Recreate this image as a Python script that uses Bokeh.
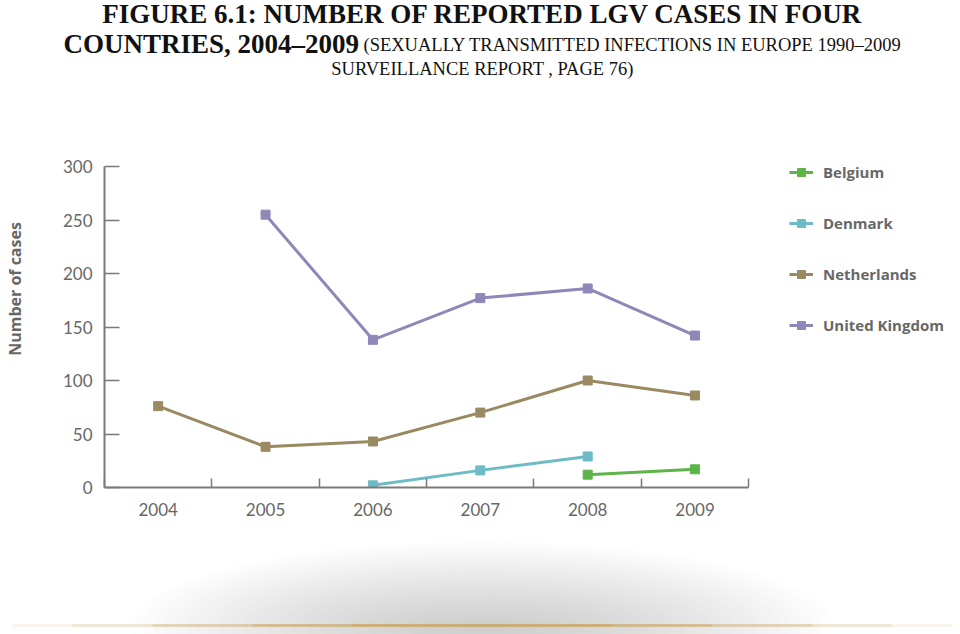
from bokeh.plotting import figure
from bokeh.models import (Legend, LegendItem, FixedTicker, Range1d)
from bokeh.embed import file_html
from bokeh.resources import INLINE
from bokeh.core.properties import value

# ---- data ----
years = [2004, 2005, 2006, 2007, 2008, 2009]
tick_labels = ["2004", "2005", "2006", "2007", "2008", "2009"]
belgium_years = [2008, 2009]
belgium = [12, 17]
denmark_years = [2006, 2007, 2008]
denmark = [2, 16, 29]
netherlands_years = [2004, 2005, 2006, 2007, 2008, 2009]
netherlands = [76, 38, 43, 70, 100, 86]
uk_years = [2005, 2006, 2007, 2008, 2009]
uk = [255, 138, 177, 186, 142]
y_ticks = [0, 50, 100, 150, 200, 250, 300]

title_bold_1 = "FIGURE 6.1: NUMBER OF REPORTED LGV CASES IN FOUR"
title_bold_2 = "COUNTRIES, 2004\u20132009"
title_norm_1 = "(SEXUALLY TRANSMITTED INFECTIONS IN EUROPE 1990\u20132009"
title_norm_2 = "SURVEILLANCE REPORT , PAGE 76)"

series = [
    ("Belgium", belgium_years, belgium, "#5db548"),
    ("Denmark", denmark_years, denmark, "#6dbbc4"),
    ("Netherlands", netherlands_years, netherlands, "#9a8a62"),
    ("United Kingdom", uk_years, uk, "#8e87b8"),
]

W = 960
axis_col = "#7a7a7a"
lab_col = "#676767"

# ---- title strip (pixel coordinates, y downwards) ----
HT = 90
pt = figure(width=W, height=HT, output_backend="svg", toolbar_location=None,
            x_range=Range1d(0, W), y_range=Range1d(HT, 0), min_border=0)
pt.axis.visible = False
pt.grid.visible = False
pt.outline_line_color = None
serif = value("Liberation Serif")
pt.text(x=[482], y=[-2], text=[title_bold_1], text_font=serif, text_font_style="bold",
        text_font_size="27px", text_align="center", text_baseline="top", text_color="#111111")
pt.text(x=[63], y=[28], text=[title_bold_2], text_font=serif, text_font_style="bold",
        text_font_size="27px", text_align="left", text_baseline="top", text_color="#111111")
pt.text(x=[363], y=[34], text=[title_norm_1], text_font=serif,
        text_font_size="18.5px", text_align="left", text_baseline="top", text_color="#111111")
pt.text(x=[482], y=[58], text=[title_norm_2], text_font=serif,
        text_font_size="18.5px", text_align="center", text_baseline="top", text_color="#111111")

# ---- chart ----
H = 540 - HT
FL = 103                  # frame left (canvas px)
X0, X1 = 2003.5, 2009.5   # axis extent
PX_X = (748 - FL) / (X1 - X0)
Y_ZERO = 487 - HT         # canvas px of y=0
PX_Y = 321 / 300
p = figure(width=W, height=H, output_backend="svg", toolbar_location=None,
           x_range=Range1d(X0, X0 + (W - FL) / PX_X),
           y_range=Range1d(0, Y_ZERO / PX_Y),
           min_border_left=FL, min_border_right=0, min_border_top=0,
           min_border_bottom=H - Y_ZERO)
p.outline_line_color = None
p.grid.visible = False
p.background_fill_color = "white"

xa = p.xaxis[0]
xa.bounds = (X0, X1)
xa.ticker = FixedTicker(ticks=years, minor_ticks=[y - 0.5 for y in years] + [years[-1] + 0.5])
xa.major_label_overrides = {y: t for y, t in zip(years, tick_labels)}
xa.major_tick_in = 0
xa.major_tick_out = 0
xa.minor_tick_in = 9
xa.minor_tick_out = 0
xa.minor_tick_line_color = axis_col
xa.minor_tick_line_width = 1.5
xa.axis_line_color = axis_col
xa.axis_line_width = 2
xa.major_label_standoff = 15
xa.major_label_text_font = "Lato"
xa.major_label_text_font_size = "17px"
xa.major_label_text_color = lab_col

ya = p.yaxis[0]
ya.bounds = (0, 300)
ya.ticker = FixedTicker(ticks=y_ticks)
ya.major_tick_in = 15
ya.major_tick_out = 0
ya.minor_tick_in = 0
ya.minor_tick_out = 0
ya.major_tick_line_color = axis_col
ya.major_tick_line_width = 1.5
ya.axis_line_color = axis_col
ya.axis_line_width = 2
ya.major_label_standoff = 12
ya.major_label_text_font = "Lato"
ya.major_label_text_font_size = "17px"
ya.major_label_text_color = lab_col
ya.major_label_text_baseline = "top"
ya.axis_label = "Number of cases"
ya.axis_label_text_font = "Open Sans"
ya.axis_label_text_font_style = "bold"
ya.axis_label_text_font_size = "16px"
ya.axis_label_text_color = lab_col
ya.axis_label_standoff = 34

items = []
for name, xs, ys, col in series:
    l = p.line(xs, ys, line_color=col, line_width=3)
    s = p.scatter(xs, ys, marker="square", size=9, fill_color=col, line_color=col)
    items.append(LegendItem(label=name, renderers=[l, s]))

# location tuple = bottom-left corner relative to the frame
legend_h = 4 * 20 + 3 * 31
legend = Legend(items=items, location=(788 - FL, Y_ZERO - (162 - HT + legend_h)),
                orientation="vertical",
                glyph_width=24, glyph_height=20, label_height=20, spacing=31,
                padding=0, margin=0, label_standoff=10,
                label_text_font="Open Sans", label_text_font_style="bold",
                label_text_font_size="15px", label_text_color=lab_col,
                border_line_color=None, background_fill_alpha=0)
p.add_layout(legend, "center")

# ---- decorative shadow strip ----
H2 = 94
p2 = figure(width=W, height=H2, output_backend="svg", toolbar_location=None,
            x_range=Range1d(0, W), y_range=Range1d(0, H2), min_border=0)
p2.axis.visible = False
p2.grid.visible = False
p2.outline_line_color = None
N = 24
for k in range(N):
    f = 1 - k / N
    p2.ellipse(x=[482], y=[8], width=[700 * f ** 0.7], height=[170 * f ** 0.9],
               fill_color="#a8a8a8", fill_alpha=0.02, line_color=None)
for wdt, a in [(940, 0.12), (820, 0.15), (660, 0.2), (460, 0.3), (260, 0.35)]:
    p2.line([482 - wdt / 2, 482 + wdt / 2], [9, 9], line_color="#c9a15a",
            line_alpha=a, line_width=3)

open("out.html", "w").write(file_html([pt, p, p2], INLINE))
